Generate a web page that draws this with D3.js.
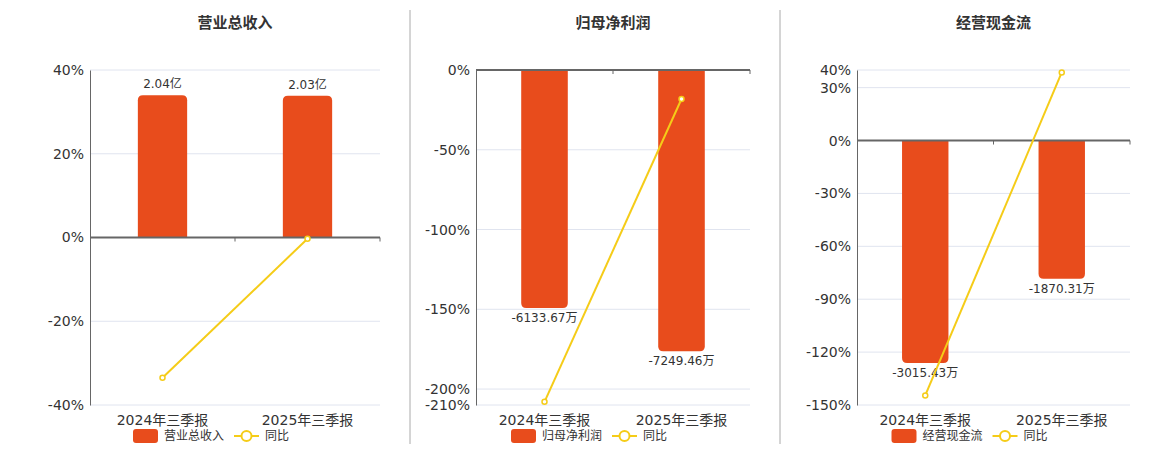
<!DOCTYPE html>
<html><head><meta charset="utf-8">
<script src="https://cdn.jsdelivr.net/npm/d3@7"></script>
<style>body{margin:0;background:#fff;font-family:"DejaVu Sans","Noto Sans CJK SC",sans-serif}</style>
</head><body><svg id="c" width="1160" height="450"></svg>
<script>
const categories = ["2024年三季报", "2025年三季报"];
const titles = ["营业总收入", "归母净利润", "经营现金流"];
const barValues = [[2.04, 2.03], [-6133.67, -7249.46], [-3015.43, -1870.31]];
const barLabels = [["2.04亿", "2.03亿"], ["-6133.67万", "-7249.46万"], ["-3015.43万", "-1870.31万"]];
const yoyValues = [[-33.5, -0.3], [-208, -18.2], [-144.6, 38.6]];
const pctTicks = [[40, 20, 0, -20, -40], [0, -50, -100, -150, -200, -210], [40, 30, 0, -30, -60, -90, -120, -150]];
const pctDomains = [[-40, 40], [-210, 0], [-150, 40]];
const barDomains = [[-2.4, 2.4], [-8634, 0], [-3587, 965]];

const plots = [{x0: 90, x1: 380}, {x0: 476, x1: 750}, {x0: 857, x1: 1130}];
const plotTop = 70, plotBottom = 405;
const svg = d3.select("#c");
const orange = "#e84c1c", yellow = "#f5cc18";

[410, 780].forEach(x => svg.append("line").attr("x1", x).attr("x2", x)
  .attr("y1", 10).attr("y2", 444).attr("stroke", "#aaa"));

plots.forEach((p, i) => {
  const g = svg.append("g");
  const x = d3.scaleBand().domain(categories).range([p.x0, p.x1]).paddingInner(0.66).paddingOuter(0.33);
  const y = d3.scaleLinear().domain(pctDomains[i]).range([plotBottom, plotTop]);
  const yb = d3.scaleLinear().domain(barDomains[i]).range([plotBottom, plotTop]);

  g.append("text").attr("x", (p.x0 + p.x1) / 2).attr("y", 28).attr("text-anchor", "middle")
    .attr("font-size", 15).attr("font-weight", "bold").attr("fill", "#333").text(titles[i]);

  g.selectAll(".grid").data(pctTicks[i]).join("line")
    .attr("x1", p.x0).attr("x2", p.x1).attr("y1", d => y(d)).attr("y2", d => y(d))
    .attr("stroke", "#e0e4ef");

  const ax = g.append("g").attr("transform", `translate(${p.x0},0)`)
    .call(d3.axisLeft(y).tickValues(pctTicks[i]).tickSize(0).tickPadding(6).tickFormat(d => d + "%"));
  ax.select(".domain").attr("stroke", "#666");
  ax.selectAll("text").attr("font-size", 14).attr("fill", "#333").attr("font-family", "DejaVu Sans");

  const z = y(0);
  g.selectAll(".bar").data(barValues[i]).join("path")
    .attr("fill", orange)
    .attr("d", (d, j) => {
      const bx = x(categories[j]), w = x.bandwidth(), e = yb(d), r = 5;
      if (d >= 0) return `M${bx},${z}V${e + r}Q${bx},${e} ${bx + r},${e}H${bx + w - r}Q${bx + w},${e} ${bx + w},${e + r}V${z}Z`;
      return `M${bx},${z}V${e - r}Q${bx},${e} ${bx + r},${e}H${bx + w - r}Q${bx + w},${e} ${bx + w},${e - r}V${z}Z`;
    });

  g.append("line").attr("x1", p.x0).attr("x2", p.x1).attr("y1", z).attr("y2", z)
    .attr("stroke", "#666").attr("stroke-width", 2);
  const xt = [p.x0 + (p.x1 - p.x0) / 2, p.x1];
  g.selectAll(".xt").data(xt).join("line").attr("x1", d => d).attr("x2", d => d)
    .attr("y1", z).attr("y2", z + 4).attr("stroke", "#666");

  g.selectAll(".bl").data(barValues[i]).join("text")
    .attr("x", (d, j) => x(categories[j]) + x.bandwidth() / 2)
    .attr("y", d => d >= 0 ? yb(d) - 7 : yb(d) + 14)
    .attr("text-anchor", "middle").attr("font-size", 12).attr("fill", "#333")
    .text((d, j) => barLabels[i][j]);

  const line = d3.line().x((d, j) => x(categories[j]) + x.bandwidth() / 2).y(d => y(d));
  g.append("path").attr("d", line(yoyValues[i])).attr("fill", "none").attr("stroke", yellow).attr("stroke-width", 2);
  g.selectAll(".pt").data(yoyValues[i]).join("circle")
    .attr("cx", (d, j) => x(categories[j]) + x.bandwidth() / 2).attr("cy", d => y(d))
    .attr("r", 2.5).attr("fill", "#fff").attr("stroke", yellow).attr("stroke-width", 1.5);

  g.selectAll(".cat").data(categories).join("text")
    .attr("x", d => x(d) + x.bandwidth() / 2).attr("y", 425).attr("text-anchor", "middle")
    .attr("font-size", 14).attr("fill", "#333").text(d => d);

  const lx = (p.x0 + p.x1) / 2 - 102;
  g.append("rect").attr("x", lx).attr("y", 429).attr("width", 25).attr("height", 14).attr("rx", 3).attr("fill", orange);
  g.append("text").attr("x", lx + 31).attr("y", 440).attr("font-size", 12).attr("fill", "#333").text(titles[i]);
  const ly = lx + 31 + titles[i].length * 12 + 10;
  g.append("line").attr("x1", ly).attr("x2", ly + 25).attr("y1", 436).attr("y2", 436).attr("stroke", yellow).attr("stroke-width", 2);
  g.append("circle").attr("cx", ly + 12.5).attr("cy", 436).attr("r", 5).attr("fill", "#fff").attr("stroke", yellow).attr("stroke-width", 2);
  g.append("text").attr("x", ly + 31).attr("y", 440).attr("font-size", 12).attr("fill", "#333").text("同比");
});
</script></body></html>
